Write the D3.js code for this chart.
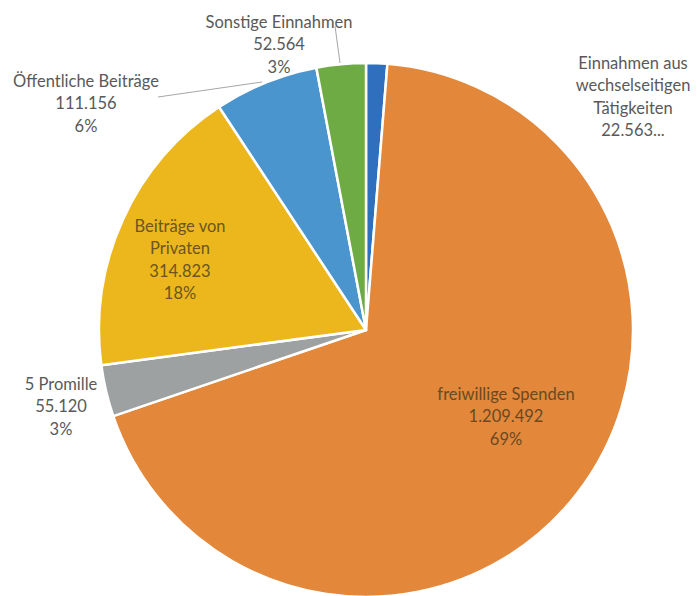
<!DOCTYPE html>
<html><head><meta charset="utf-8">
<script src="https://cdn.jsdelivr.net/npm/d3@7/dist/d3.min.js"></script>
<style>body{margin:0;background:#fff}svg{display:block}</style>
</head><body>
<svg id="c" width="697" height="596"></svg>
<script>
// Data
const categories = ["Einnahmen aus wechselseitigen Tätigkeiten","freiwillige Spenden","5 Promille","Beiträge von Privaten","Öffentliche Beiträge","Sonstige Einnahmen"];
const values = [22563, 1209492, 55120, 314823, 111156, 52564];
const valueLabels = ["22.563...", "1.209.492", "55.120", "314.823", "111.156", "52.564"];
const percentLabels = ["", "69%", "3%", "18%", "6%", "3%"];
const nameLines = [["Einnahmen aus","wechselseitigen","Tätigkeiten"],["freiwillige Spenden"],["5 Promille"],["Beiträge von","Privaten"],["Öffentliche Beiträge"],["Sonstige Einnahmen"]];
const colors = ["#2f6fbd","#e3873a","#9da1a2","#ecb71c","#4b95cf","#6eab45"];

// Layout (label anchors: x center, first baseline y)
const cx = 366, cy = 330, R = 267;
const labelPos = [[633,69],[506,400],[61,390],[180,232],[86,87],[279,28]];
const labelFill = ["#595959","#6a4a22","#595959","#6b5520","#595959","#595959"];
const leaders = [null,null,null,null,[[158,97],[262,82]],[[335,26],[340,63]]];

const svg = d3.select("#c");
const g = svg.append("g").attr("transform",`translate(${cx},${cy})`);
const pie = d3.pie().sort(null).value(d=>d)(values);
const arc = d3.arc().innerRadius(0).outerRadius(R);
g.selectAll("path").data(pie).join("path")
  .attr("d",arc).attr("fill",(d,i)=>colors[i])
  .attr("stroke","#fff").attr("stroke-width",2.5).attr("stroke-linejoin","round");

leaders.forEach(l=>{ if(!l) return;
  svg.append("line").attr("x1",l[0][0]).attr("y1",l[0][1]).attr("x2",l[1][0]).attr("y2",l[1][1])
    .attr("stroke","#a6a6a6").attr("stroke-width",1);
});

categories.forEach((c,i)=>{
  const lines = nameLines[i].concat([valueLabels[i]]);
  if(percentLabels[i]) lines.push(percentLabels[i]);
  const t = svg.append("text").attr("x",labelPos[i][0]).attr("y",labelPos[i][1])
    .attr("text-anchor","middle").attr("fill",labelFill[i])
    .style("font-family","Lato, 'Open Sans', sans-serif").style("font-size","16.5px");
  lines.forEach((s,k)=>t.append("tspan").attr("x",labelPos[i][0]).attr("dy",k?22.3:0).text(s));
});
</script>
</body></html>
